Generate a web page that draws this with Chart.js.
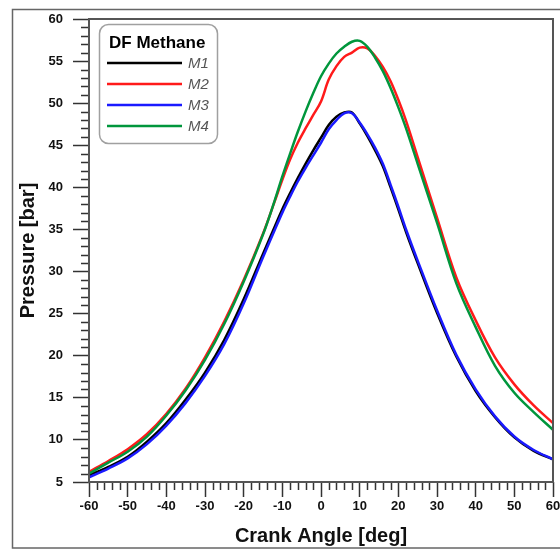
<!DOCTYPE html>
<html>
<head>
<meta charset="utf-8">
<script src="https://cdn.jsdelivr.net/npm/chart.js@4.4.0/dist/chart.umd.min.js"></script>
<style>
  html, body { margin: 0; padding: 0; background: #fff; }
  #wrap { width: 560px; height: 552px; }
</style>
</head>
<body>
<div id="wrap"><canvas id="grafico" width="560" height="552"></canvas></div>
<script>
// angulo de manivela [deg]
const angulos = [-60, -55, -50, -45, -40, -35, -30, -25, -20, -15, -12, -10, -8, -6, -4, -2, 0, 2, 4, 6,
                 8, 10, 12, 14, 16, 18, 20, 22, 25, 30, 35, 40, 45, 50, 55, 60];

// pressao [bar]
const m1 = [5.8, 6.8, 8.0, 9.8, 12.0, 14.8, 18.0, 21.9, 26.7, 32.1, 35.3, 37.4, 39.3, 41.1, 42.8, 44.4, 45.9, 47.4, 48.4, 48.9,
            48.9, 47.6, 46.1, 44.4, 42.5, 40.0, 37.4, 34.7, 31.0, 25.1, 19.9, 15.8, 12.7, 10.3, 8.7, 7.7];
const m2 = [6.2, 7.5, 8.9, 10.7, 13.1, 16.1, 19.8, 24.1, 29.0, 34.5, 38.3, 40.9, 43.3, 45.3, 47.0, 48.6, 50.2, 52.8, 54.4, 55.5,
            56.0, 56.6, 56.5, 55.6, 54.3, 52.6, 50.4, 47.9, 43.6, 36.4, 29.3, 24.2, 19.8, 16.6, 14.1, 12.0];
const m3 = [5.55, 6.6, 7.8, 9.5, 11.7, 14.4, 17.6, 21.4, 26.2, 31.7, 34.9, 37.0, 38.9, 40.7, 42.3, 43.8, 45.3, 46.9, 48.0, 48.8,
            48.8, 47.7, 46.3, 44.7, 42.8, 40.3, 37.7, 35.0, 31.3, 25.4, 20.1, 16.0, 12.8, 10.4, 8.8, 7.7];
const m4 = [6.0, 7.3, 8.6, 10.4, 12.9, 15.9, 19.5, 23.8, 28.8, 34.4, 38.4, 41.3, 44.0, 46.6, 49.0, 51.2, 53.2, 54.7, 55.9, 56.7,
            57.3, 57.4, 56.7, 55.4, 53.8, 51.8, 49.5, 47.0, 42.8, 35.8, 28.6, 23.4, 18.8, 15.6, 13.3, 11.2];

const nomes = ["M1", "M2", "M3", "M4"];
const cores = ["#000000", "#ff1a1a", "#1a1aff", "#00963c"];
const series = [m1, m2, m3, m4];
const tituloLegenda = "DF Methane";

const fonte = "'Liberation Sans', Arial, sans-serif";

function pontos(valores) {
    return angulos.map((a, i) => ({ x: a, y: valores[i] }));
}

// molduras, ticks menores e legenda
const extras = {
    id: "extras",
    beforeDraw(chart) {
        const ctx = chart.ctx;
        ctx.save();
        ctx.fillStyle = "#fff";
        ctx.fillRect(0, 0, chart.width, chart.height);
        ctx.strokeStyle = "#666";
        ctx.lineWidth = 1.5;
        ctx.strokeRect(12.5, 9.5, 560, 538.5);
        ctx.restore();
    },
    afterDraw(chart) {
        const ctx = chart.ctx;
        const a = chart.chartArea;
        const sx = chart.scales.x;
        const sy = chart.scales.y;
        ctx.save();
        ctx.strokeStyle = "#333";
        ctx.lineWidth = 1.5;
        ctx.beginPath();
        for (let v = -60; v <= 60; v += 2) {
            if (v % 10 === 0) continue;
            const px = Math.round(sx.getPixelForValue(v)) + 0.5;
            ctx.moveTo(px, a.bottom);
            ctx.lineTo(px, a.bottom + 8);
        }
        for (let v = 5; v <= 60; v += 1) {
            if (v % 5 === 0) continue;
            const py = Math.round(sy.getPixelForValue(v)) + 0.5;
            ctx.moveTo(a.left, py);
            ctx.lineTo(a.left - 8, py);
        }
        ctx.stroke();

        // moldura da area do grafico
        ctx.strokeStyle = "#555";
        ctx.lineWidth = 2;
        ctx.strokeRect(a.left, a.top, a.right - a.left, a.bottom - a.top);

        // legenda
        const lx = 99, ly = 24, lw = 118, lh = 119;
        ctx.beginPath();
        ctx.roundRect(lx + 0.5, ly + 0.5, lw, lh, 9);
        ctx.fillStyle = "#fff";
        ctx.fill();
        ctx.strokeStyle = "#a0a0a0";
        ctx.lineWidth = 1.5;
        ctx.stroke();

        ctx.fillStyle = "#000";
        ctx.font = "bold 17px " + fonte;
        ctx.textAlign = "left";
        ctx.textBaseline = "middle";
        ctx.fillText(tituloLegenda, 109, 43);

        chart.data.datasets.forEach((ds, i) => {
            const y = 63 + i * 21;
            ctx.strokeStyle = ds.borderColor;
            ctx.lineWidth = 2.5;
            ctx.beginPath();
            ctx.moveTo(107, y);
            ctx.lineTo(182, y);
            ctx.stroke();
            ctx.fillStyle = "#555";
            ctx.font = "italic 15px " + fonte;
            ctx.fillText(ds.label, 188, y + 1);
        });
        ctx.restore();
    }
};

const grafico = new Chart(document.getElementById("grafico").getContext("2d"), {
    type: "line",
    data: {
        datasets: series.map((s, i) => ({
            label: nomes[i],
            data: pontos(s),
            borderColor: cores[i],
            backgroundColor: cores[i],
            borderWidth: 2.5,
            pointRadius: 0,
            tension: 0.35,
            fill: false,
            order: 4 - i
        }))
    },
    options: {
        responsive: false,
        animation: false,
        layout: {
            padding: { left: 14, top: 19, right: 7, bottom: 0 }
        },
        plugins: {
            legend: { display: false },
            tooltip: { enabled: false }
        },
        scales: {
            x: {
                type: "linear",
                min: -60,
                max: 60,
                ticks: {
                    stepSize: 10,
                    color: "#111",
                    padding: 2,
                    maxRotation: 0,
                    font: { family: fonte, size: 13, weight: "bold" }
                },
                grid: {
                    drawOnChartArea: false,
                    tickLength: 15,
                    tickWidth: 1.5,
                    tickColor: "#333"
                },
                border: { display: false },
                title: {
                    display: true,
                    text: "Crank Angle [deg]",
                    color: "#111",
                    padding: { top: 0, bottom: 4 },
                    font: { family: fonte, size: 20, weight: "bold" }
                },
                afterFit(s) {
                    s.height = 70;
                    s.paddingLeft = 0;
                    s.paddingRight = 0;
                }
            },
            y: {
                min: 5,
                max: 60,
                ticks: {
                    stepSize: 5,
                    color: "#111",
                    padding: 10,
                    font: { family: fonte, size: 13, weight: "bold" }
                },
                grid: {
                    drawOnChartArea: false,
                    tickLength: 16,
                    tickWidth: 1.5,
                    tickColor: "#333"
                },
                border: { display: false },
                title: {
                    display: true,
                    text: "Pressure [bar]",
                    color: "#111",
                    padding: { top: 2, bottom: 0 },
                    font: { family: fonte, size: 20, weight: "bold" }
                },
                afterFit(s) {
                    s.width = 75;
                    s.paddingTop = 0;
                    s.paddingBottom = 0;
                }
            }
        }
    },
    plugins: [extras]
});
</script>
</body>
</html>
